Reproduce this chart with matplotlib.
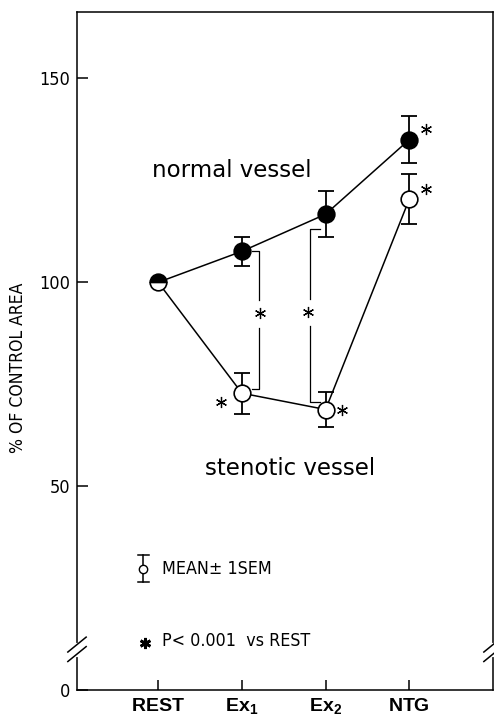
import matplotlib as mpl
mpl.use('Agg')
import matplotlib.pyplot as plt
import numpy as np

# data
stages = ["REST", "Ex1", "Ex2", "NTG"]
tick_labels = [r"$\mathbf{REST}$", r"$\mathbf{Ex_1}$", r"$\mathbf{Ex_2}$", r"$\mathbf{NTG}$"]
normal_mean = [100, 107.6, 116.7, 135.0]
normal_sem = [0, 3.6, 5.6, 5.7]
stenotic_mean = [100, 72.8, 68.8, 120.4]
stenotic_sem = [0, 5.0, 4.3, 6.2]
signif_normal = [False, False, False, True]     # * vs REST
signif_stenotic = [False, True, True, True]
yticks = [0, 50, 100, 150]

plt.rcParams['mathtext.fontset'] = 'custom'
plt.rcParams['mathtext.rm'] = 'Liberation Sans'
plt.rcParams['mathtext.bf'] = 'Liberation Sans:bold'
narrow = ['Liberation Sans Narrow', 'DejaVu Sans']
nstretch = 'condensed'

fig = plt.figure(figsize=(4.94, 7.2), dpi=100)
ax = fig.add_axes([77/494, 1-690/720, 416/494, 678/720])
x = np.arange(1, len(stages)+1)

lw = 1.1
# connecting lines
ax.plot(x, normal_mean, color='black', lw=lw, zorder=2)
ax.plot(x, stenotic_mean, color='black', lw=lw, zorder=2)
# error bars (skip REST)
ax.errorbar(x[1:], normal_mean[1:], yerr=normal_sem[1:], fmt='none', ecolor='black',
            elinewidth=1.3, capsize=6, capthick=1.3, zorder=1)
ax.errorbar(x[1:], stenotic_mean[1:], yerr=stenotic_sem[1:], fmt='none', ecolor='black',
            elinewidth=1.3, capsize=6, capthick=1.3, zorder=1)
# markers
ax.plot(x[1:], normal_mean[1:], 'o', ms=12, mfc='black', mec='black', mew=1.2, zorder=4)
ax.plot(x[1:], stenotic_mean[1:], 'o', ms=12, mfc='white', mec='black', mew=1.2, zorder=4)
ax.plot(x[0], normal_mean[0], 'o', ms=12, fillstyle='top', mfc='black', mfcalt='white',
        mec='black', mew=1.2, zorder=5)

# asterisks next to points
star = dict(marker=(6, 2, 0), ms=8, mew=0.9, color='black', ls='none', zorder=5)
for i in range(len(stages)):
    if signif_normal[i]:
        ax.plot(x[i] + 0.2, normal_mean[i] + 2.5, **star)
    if signif_stenotic[i]:
        dx = -0.25 if i == 1 else 0.2
        dy = -2.2 if i == 1 else (2.4 if i == 3 else 0)
        ax.plot(x[i] + dx, stenotic_mean[i] + dy, **star)

# brackets normal vs stenotic at Ex1 and Ex2
blw = 0.9
def bracket(xv, y_top, y_bot, side, x_inner, ymid):
    xb = xv + side
    ax.plot([xv + x_inner, xb, xb], [y_top, y_top, ymid + 3.2], color='black', lw=blw)
    ax.plot([xb, xb, xv + x_inner], [ymid - 3.5, y_bot, y_bot], color='black', lw=blw)
    ax.plot(xb + 0.015 * np.sign(side), ymid, **star)

mid1 = (normal_mean[1] + stenotic_mean[1]) / 2
bracket(x[1], normal_mean[1], stenotic_mean[1] + 1.0, 0.2, 0.12, mid1 + 2.2)
mid2 = (normal_mean[2] + stenotic_mean[2]) / 2
bracket(x[2], normal_mean[2] - 3.7, stenotic_mean[2] + 1.8, -0.19, -0.07, mid2)

# labels inside
ax.text(1.88, 127.5, "normal vessel", family='DejaVu Sans', fontsize=16.5, ha='center', va='center')
ax.text(2.57, 54.3, "stenotic vessel", family='DejaVu Sans', fontsize=16.5, ha='center', va='center')

# key
ax.plot([0.159, 0.159], [0.159, 0.199], color='black', lw=1.1, transform=ax.transAxes, zorder=3)
ax.plot([0.146, 0.172], [0.199, 0.199], color='black', lw=1.1, transform=ax.transAxes)
ax.plot([0.146, 0.172], [0.159, 0.159], color='black', lw=1.1, transform=ax.transAxes)
ax.plot(0.159, 0.179, 'o', ms=6, mfc='white', mec='black', mew=1.0, transform=ax.transAxes, zorder=4)
ax.text(0.204, 0.179, u"MEAN\u00b1 1SEM", family=narrow, stretch=nstretch, fontsize=12.8,
        ha='left', va='center', transform=ax.transAxes)
ax.plot(0.164, 0.070, marker=(6, 2, 0), ms=8, mew=2.0, color='black', transform=ax.transAxes)
ax.text(0.204, 0.073, u"P< 0.001  vs REST", family=narrow, stretch=nstretch, fontsize=12.8,
        ha='left', va='center', transform=ax.transAxes)

ax.set_xlim(0.03, 5.0)
ax.set_ylim(0, 166.3)
ax.set_xticks(x)
ax.set_xticklabels(tick_labels, fontsize=14)
ax.set_yticks(yticks)
ax.set_yticklabels([str(v) for v in yticks], family=narrow, stretch=nstretch, fontsize=13)
ax.tick_params(axis='y', direction='in', length=8, width=1.1, pad=5)
ax.tick_params(axis='x', direction='in', length=7, width=1.1, pad=4)
for s in ax.spines.values():
    s.set_linewidth(1.1)

fig.text(18/494, 1-368/720, "% OF CONTROL AREA", family=narrow, stretch=nstretch, fontsize=12.6,
         rotation=90, ha='center', va='center')

# axis break marks
for xa in (0.0, 1.0):
    ax.plot([xa, xa], [0.052, 0.066], color='white', lw=3, transform=ax.transAxes,
            clip_on=False, zorder=6)
    for yb in (0.053, 0.067):
        ax.plot([xa - 0.022, xa + 0.022], [yb - 0.011, yb + 0.011], color='black', lw=1.1,
                transform=ax.transAxes, clip_on=False, zorder=7)

fig.savefig("out.png", dpi=100)
